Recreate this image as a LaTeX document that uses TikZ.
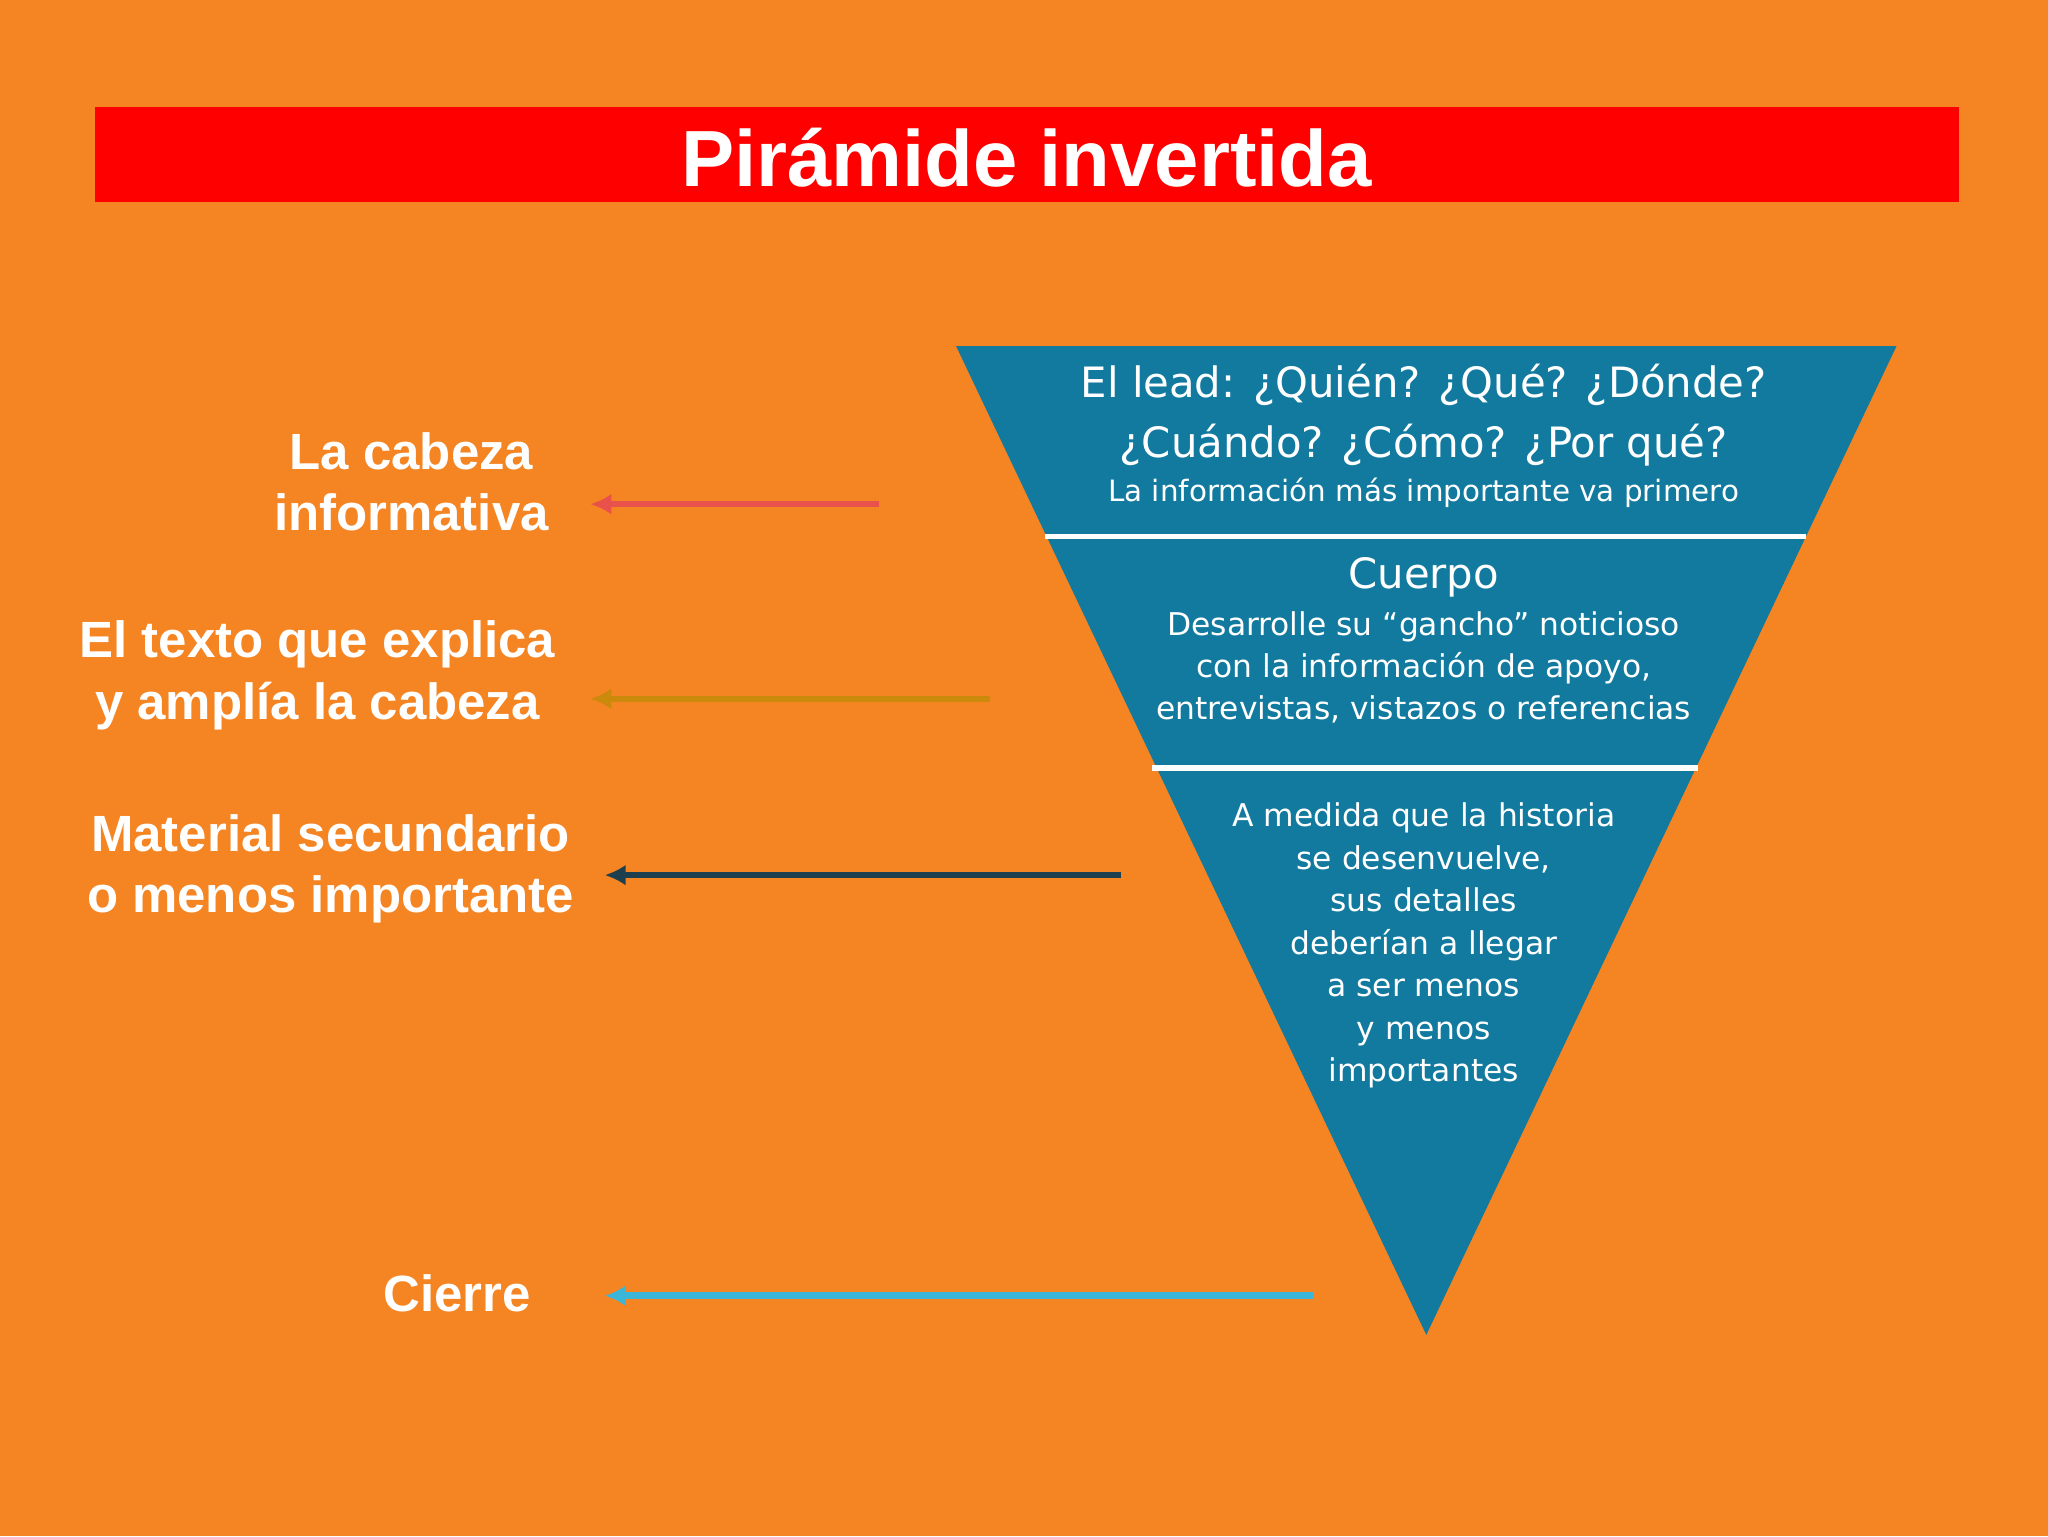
\documentclass[tikz,border=0pt]{standalone}
\usepackage{fontspec}
\setmainfont{Liberation Sans}
\newfontfamily\pyrfont{DejaVu Sans}
\usetikzlibrary{arrows.meta}
\definecolor{bg}{HTML}{F58423}
\definecolor{pyr}{HTML}{127A9E}
\definecolor{arrred}{HTML}{E8524A}
\definecolor{arrbrown}{HTML}{CC8A0C}
\definecolor{arrdark}{HTML}{1E3F4E}
\definecolor{arrcyan}{HTML}{3BB6D8}
\begin{document}
\begin{tikzpicture}[x=1pt,y=-1pt,
  lab/.style={text=white,font=\fontsize{39}{47}\selectfont\bfseries,align=center},
  arr/.style={line width=5pt,-{Latex[length=16pt,width=16pt]}},
  ptext/.style={text=white,align=center,font=\pyrfont}]
\fill[bg] (0,0) rectangle (1568,1176);
\useasboundingbox (0,0) rectangle (1568,1176);
\fill[red] (73,82) rectangle (1500,155);
\node[text=white,font=\fontsize{61}{63}\selectfont\bfseries] (title) at (786,121) {Pirámide invertida};
\fill[pyr] (732,265) -- (1452,265) -- (1092,1022) -- cycle;
\draw[white,line width=4pt] (800,411) -- (1383,411);
\draw[white,line width=4pt] (882,588) -- (1300,588);
\node[ptext,font=\pyrfont\fontsize{32}{46}\selectfont] (lead) at (1090,318) {El lead: ¿Quién? ¿Qué? ¿Dónde?\\¿Cuándo? ¿Cómo? ¿Por qué?};
\node[ptext,font=\pyrfont\fontsize{22.5}{26}\selectfont] (leadsub) at (1090,377) {La información más importante va primero};
\node[ptext,font=\pyrfont\fontsize{32}{34}\selectfont] (cuerpo) at (1090,442) {Cuerpo};
\node[ptext,font=\pyrfont\fontsize{24}{32.5}\selectfont] (cuerposub) at (1090,511) {Desarrolle su “gancho” noticioso\\con la información de apoyo,\\entrevistas, vistazos o referencias};
\node[ptext,font=\pyrfont\fontsize{24}{32.5}\selectfont] (resto) at (1090,724) {A medida que la historia\\se desenvuelve,\\sus detalles\\deberían a llegar\\a ser menos\\y menos\\importantes};
\node[lab] (l1) at (315,369) {La cabeza\\informativa};
\node[lab] (l2) at (243,517) {El texto que explica\\y amplía la cabeza};
\node[lab] (l3) at (253,665) {Material secundario\\o menos importante};
\node[lab] (l4) at (350,990) {Cierre};
\coordinate (a1) at (673,386); \coordinate (b1) at (452,386);
\coordinate (a2) at (758,535); \coordinate (b2) at (452,535);
\coordinate (a3) at (858,670); \coordinate (b3) at (463,670);
\coordinate (a4) at (1005,992); \coordinate (b4) at (463,992);
\draw[arr,arrred] (a1) -- (b1);
\draw[arr,arrbrown] (a2) -- (b2);
\draw[arr,arrdark] (a3) -- (b3);
\draw[arr,arrcyan] (a4) -- (b4);
\end{tikzpicture}
\end{document}
